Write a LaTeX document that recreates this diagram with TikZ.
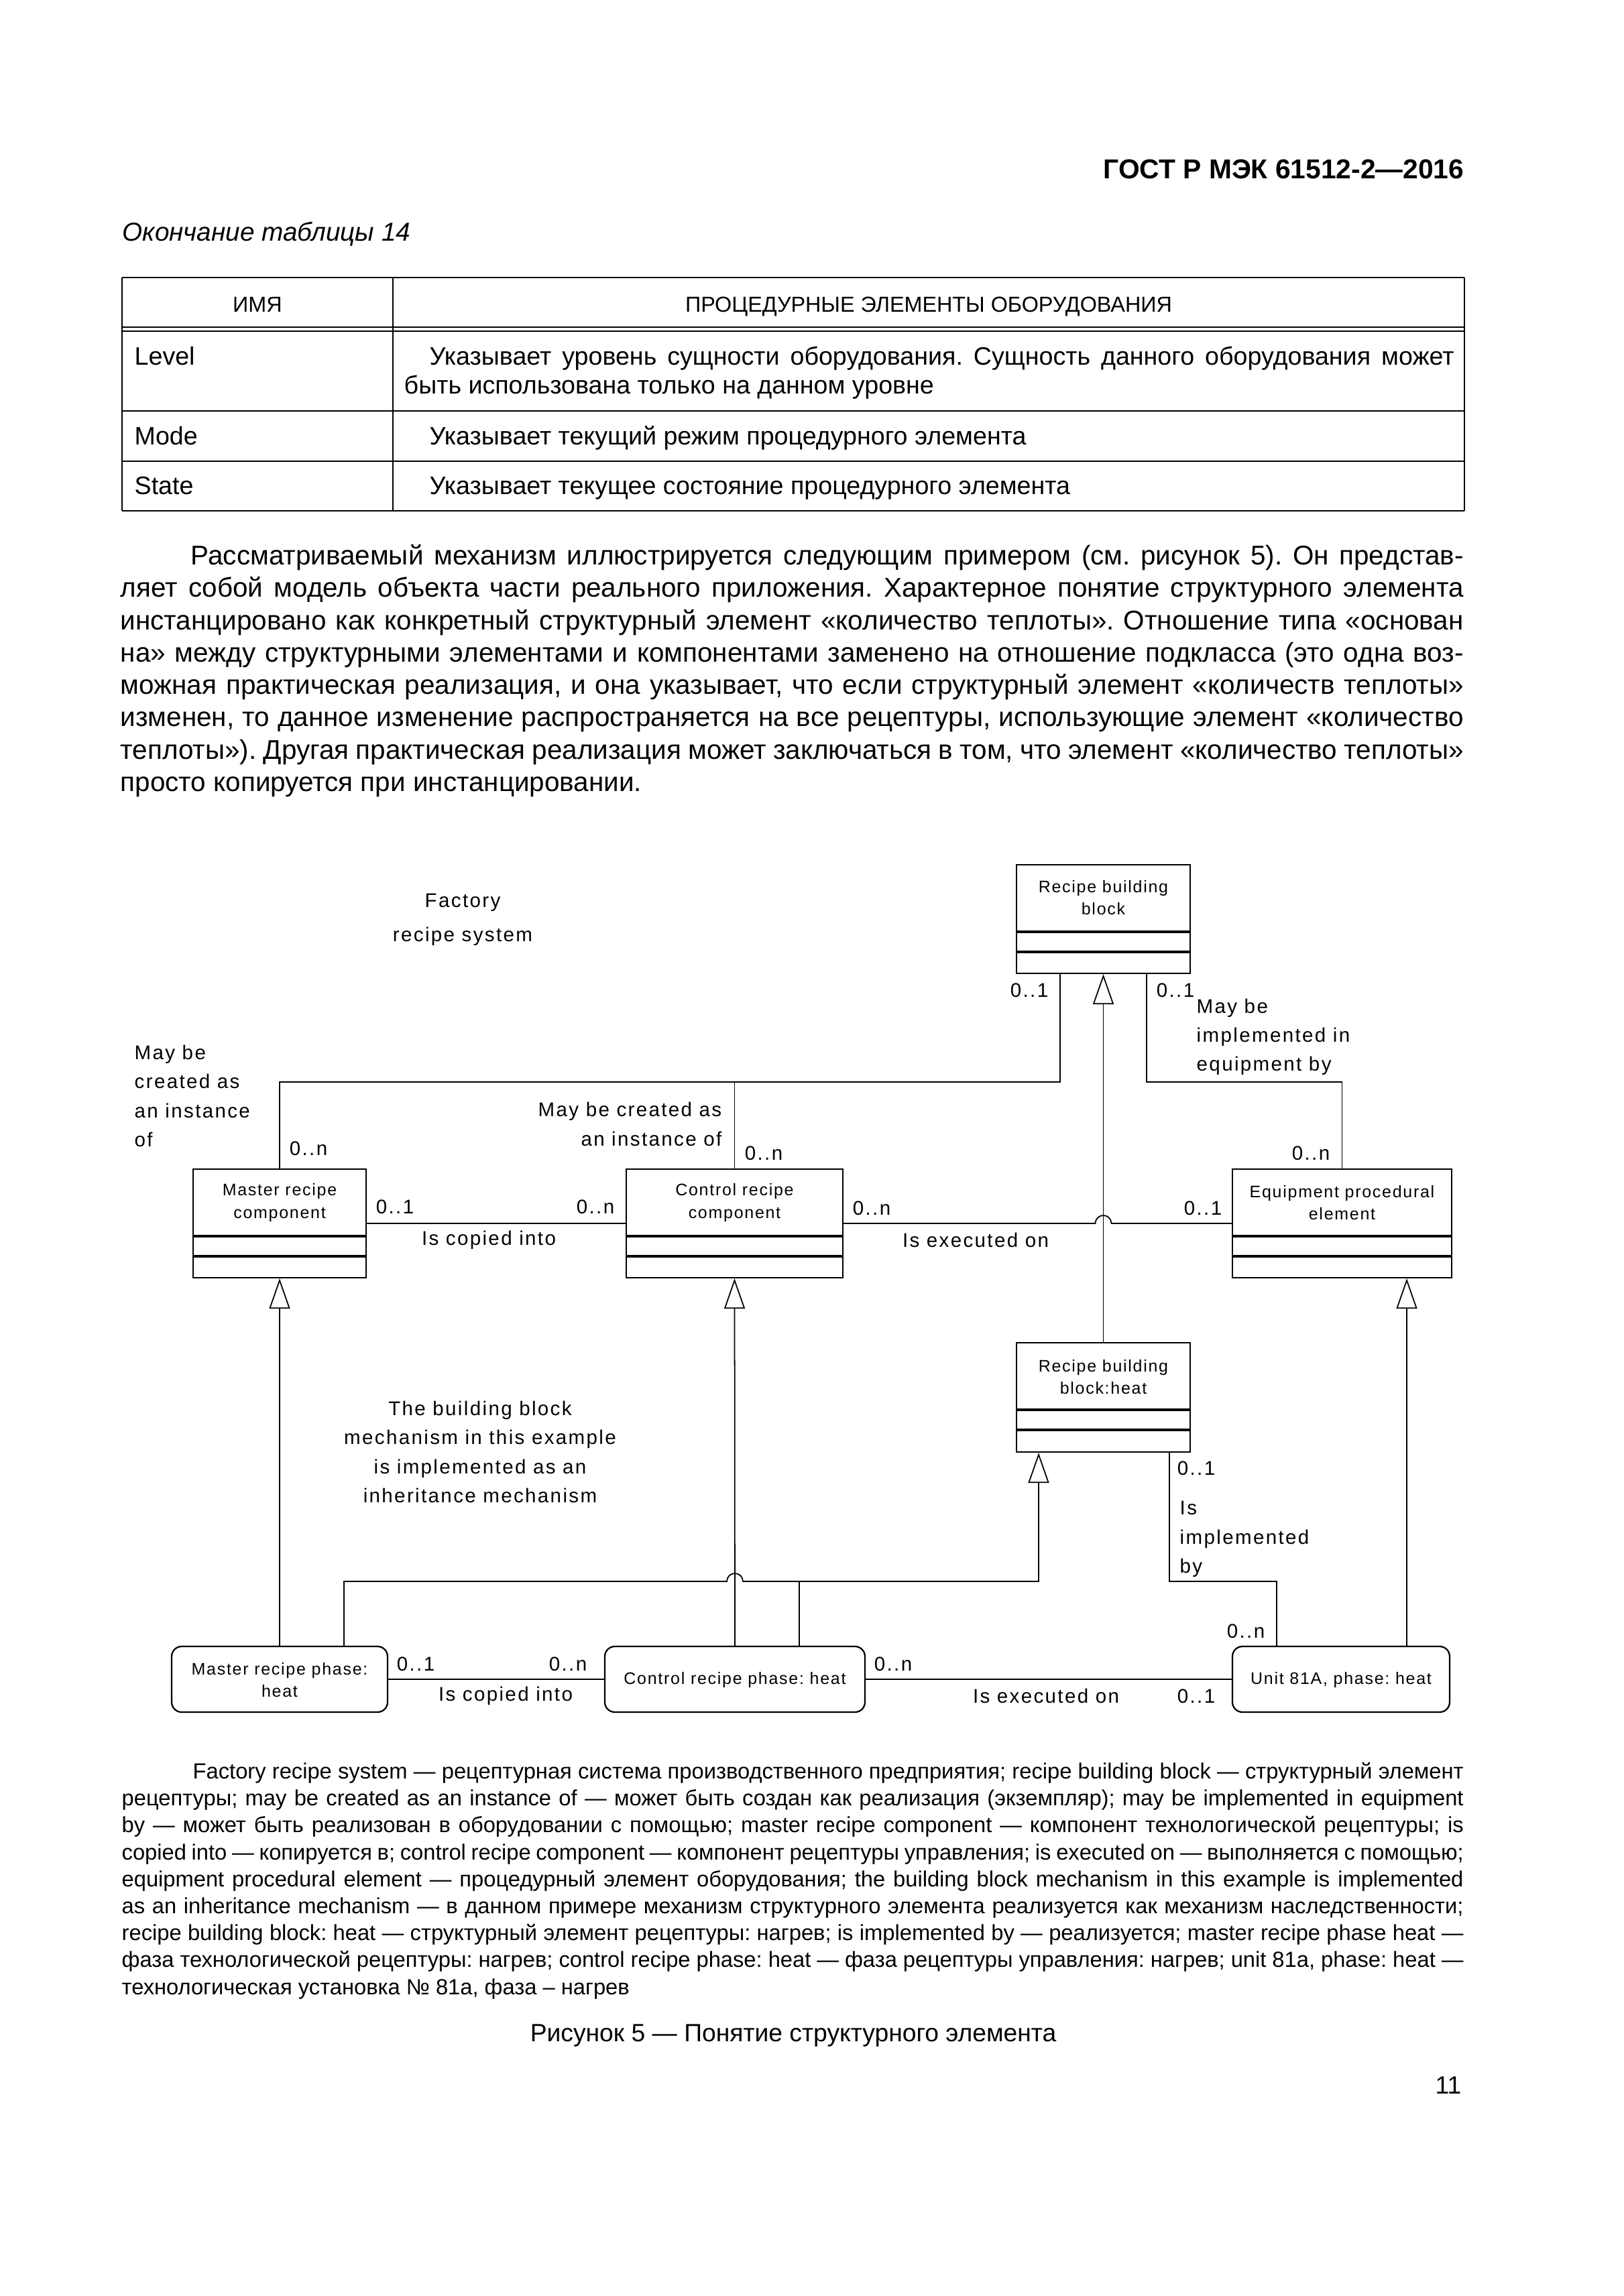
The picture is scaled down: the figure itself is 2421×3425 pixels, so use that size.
\documentclass[tikz,border=0pt]{standalone}
\usepackage{fontspec}
\setmainfont{Liberation Sans}
\newfontfamily\labfont[LetterSpace=8]{Liberation Sans}
\newfontfamily\boxfont[LetterSpace=7]{Liberation Sans}
\usetikzlibrary{arrows.meta}
\frenchspacing
\newcommand{\jl}[2]{\makebox[#1][s]{#2}}
\tikzset{
  pg/.style={anchor=base west, inner sep=0pt, font=\fontsize{11.5}{13.7}\selectfont},
  lg/.style={anchor=base west, inner sep=0pt, font=\fontsize{9.3}{11.4}\selectfont},
  tb/.style={anchor=base west, inner sep=0pt, font=\fontsize{10.7}{12.5}\selectfont},
  th/.style={anchor=base, inner sep=0pt, font=\fontsize{9.2}{11}\selectfont},
  lab/.style={inner sep=0pt, font=\labfont\fontsize{8.4}{12.3}\selectfont},
  btx/.style={inner sep=0pt, align=center, font=\boxfont\fontsize{7.1}{9.6}\selectfont},
  cls/.style={draw, line width=0.65pt, inner sep=0pt, minimum height=16.2mm},
  phs/.style={draw, line width=0.65pt, inner sep=0pt, minimum height=9.8mm, rounded corners=1.5mm},
  comp/.style={line width=1.2pt},
  conn/.style={line width=0.5pt},
  inh/.style={line width=0.5pt, -{Triangle[open, length=4.5mm, width=3.1mm]}},
  hrule/.style={line width=0.75pt},
  vrule/.style={line width=0.45pt},
}
\begin{document}
\begin{tikzpicture}[x=0.1mm, y=-0.1mm]
\fill[white] (0,0) rectangle (2421,3425);
\useasboundingbox (0,0) rectangle (2421,3425);

% header
\node[anchor=base east, inner sep=0pt, font=\fontsize{11.6}{14}\selectfont\bfseries] (hdr) at (2184,266) {ГОСТ Р МЭК 61512-2—2016};
\node[anchor=base west, inner sep=0pt, font=\fontsize{11}{13}\selectfont\itshape] (tcap) at (182,359) {Окончание таблицы 14};

% table
\draw[hrule] (182,414) -- (2184,414);
\draw[hrule] (182,488) -- (2184,488);
\draw[hrule] (182,494) -- (2184,494);
\draw[hrule] (182,613) -- (2184,613);
\draw[hrule] (182,688) -- (2184,688);
\draw[hrule] (182,762) -- (2184,762);
\draw[vrule] (182,414) -- (182,762);
\draw[vrule] (586,414) -- (586,762);
\draw[vrule] (2184,414) -- (2184,762);
\node[th] (h1) at (384,465) {ИМЯ};
\node[th] (h2) at (1385,465) {ПРОЦЕДУРНЫЕ ЭЛЕМЕНТЫ ОБОРУДОВАНИЯ};
\node[tb] (r1a) at (200,544) {Level};
\node[tb] (r1b) at (640,544) {\jl{152.8mm}{Указывает уровень сущности оборудования. Сущность данного оборудования может}};
\node[tb] (r1c) at (602,587) {быть использована только на данном уровне};
\node[tb] (r2a) at (200,663) {Mode};
\node[tb] (r2b) at (640,663) {Указывает текущий режим процедурного элемента};
\node[tb] (r3a) at (200,737) {State};
\node[tb] (r3b) at (640,737) {Указывает текущее состояние процедурного элемента};

% paragraph
\node[pg] (p1) at (284,842) {\jl{189.8mm}{Рассматриваемый механизм иллюстрируется следующим примером (см. рисунок 5). Он представ-}};
\node[pg] (p2) at (179,890) {\jl{200.3mm}{ляет собой модель объекта части реального приложения. Характерное понятие структурного элемента}};
\node[pg] (p3) at (179,939) {\jl{200.3mm}{инстанцировано как конкретный структурный элемент «количество теплоты». Отношение типа «основан}};
\node[pg] (p4) at (179,987) {\jl{200.3mm}{на» между структурными элементами и компонентами заменено на отношение подкласса (это одна воз-}};
\node[pg] (p5) at (179,1035) {\jl{200.3mm}{можная практическая реализация, и она указывает, что если структурный элемент «количеств теплоты»}};
\node[pg] (p6) at (179,1083) {\jl{200.3mm}{изменен, то данное изменение распространяется на все рецептуры, использующие элемент «количество}};
\node[pg] (p7) at (179,1132) {\jl{200.3mm}{теплоты»). Другая практическая реализация может заключаться в том, что элемент «количество теплоты»}};
\node[pg] (p8) at (179,1180) {просто копируется при инстанцировании.};

% ---------------- diagram ----------------
\node[cls, minimum width=25.9mm] (rbb) at (1645.5,1371) {};
\node[btx] (rbbt) at (1645.5,1339) {Recipe building\\block};
\node[cls, minimum width=25.8mm] (mrc) at (417,1825) {};
\node[btx] (mrct) at (417,1794) {Master recipe\\component};
\node[cls, minimum width=32.3mm] (crc) at (1095.5,1825) {};
\node[btx] (crct) at (1095.5,1794) {Control recipe\\component};
\node[cls, minimum width=32.7mm] (epe) at (2001.5,1825) {};
\node[btx] (epet) at (2001.5,1794) {Equipment procedural\\element};
\node[cls, minimum width=25.9mm, minimum height=16.3mm] (rbh) at (1645.5,2084.5) {};
\node[btx] (rbht) at (1645.5,2054) {Recipe building\\block:heat};
\foreach \n in {rbb,mrc,crc,epe,rbh}{
  \draw[comp] ([yshift=-10.1mm]\n.north west) -- ([yshift=-10.1mm]\n.north east);
  \draw[comp] ([yshift=-13.1mm]\n.north west) -- ([yshift=-13.1mm]\n.north east);
}
\node[phs, minimum width=32.2mm] (mrp) at (417,2505) {};
\node[btx] (mrpt) at (417,2506) {Master recipe phase:\\heat};
\node[phs, minimum width=38.8mm] (crp) at (1096,2505) {};
\node[btx] (crpt) at (1096,2506) {Control recipe phase: heat};
\node[phs, minimum width=32.4mm] (unt) at (2000,2505) {};
\node[btx] (untt) at (2000,2506) {Unit 81A, phase: heat};

% connectors
\coordinate (bA) at (1581,1614);
\coordinate (bB) at (1710,1614);
\draw[conn] (mrc.north) |- (bA) -- (bA |- rbb.south);
\draw[conn] (crc.north) -- (crc.north |- bA);
\draw[conn] (bB |- rbb.south) -- (bB) -| (epe.north);
\draw[conn] (mrc.east) -- (crc.west);
\coordinate (jmp1) at (1633.5,1825);
\draw[conn] (crc.east) -- (jmp1) arc[start angle=180, end angle=0, radius=1.2mm] -- (epe.west);

\draw[inh] (rbh.north) -- (rbb.south);
\draw[inh] (mrp.north) -- (mrc.south);
\draw[inh] (crp.north) -- (crc.south);
\coordinate (eT) at ([xshift=9.65mm]epe.south);
\coordinate (uT) at ([xshift=9.8mm]unt.north);
\draw[inh] (uT) -- (eT);

\coordinate (mP) at ([xshift=9.6mm]mrp.north);
\coordinate (cP) at ([xshift=9.6mm]crp.north);
\coordinate (hL) at (1549,2359);
\coordinate (jmp2) at (1084,2359);
\draw[inh] (mP) |- (jmp2) arc[start angle=180, end angle=0, radius=1.2mm] -- (hL) -- (hL |- rbh.south);
\draw[conn] (cP) -- (cP |- hL);
\coordinate (hR) at (1744,2359);
\coordinate (uL) at ([xshift=-9.6mm]unt.north);
\draw[conn] (hR |- rbh.south) -- (hR) -| (uL);
\draw[conn] (mrp.east) -- (crp.west);
\draw[conn] (crp.east) -- (unt.west);

% labels
\node[lab, align=center, font=\labfont\fontsize{8.4}{14.5}\selectfont] (fac) at (690,1372) {Factory\\recipe system};
\node[lab, align=left, anchor=west] (l1) at (200,1635) {May be\\created as\\an instance\\of};
\node[lab, align=right, anchor=east] (l2) at (1077,1677) {May be created as\\an instance of};
\node[lab, align=left, anchor=west] (l3) at (1784,1547) {May be\\implemented in\\equipment by};
\node[lab, align=center] (l4) at (716,2166) {The building block\\mechanism in this example\\is implemented as an\\inheritance mechanism};
\node[lab, align=left, anchor=west] (l5) at (1759,2296) {Is\\implemented\\by};
\node[lab] (m1) at (1535,1477) {0..1};
\node[lab] (m2) at (1753,1477) {0..1};
\node[lab] (m3) at (1955,1720) {0..n};
\node[lab] (m4) at (460,1713) {0..n};
\node[lab] (m5) at (1139,1720) {0..n};
\node[lab] (m6) at (589,1800) {0..1};
\node[lab] (m7) at (888,1800) {0..n};
\node[lab] (c1) at (729,1850) {Is copied into};
\node[lab] (m8) at (1300,1802) {0..n};
\node[lab] (m9) at (1794,1802) {0..1};
\node[lab] (c2) at (1455,1850) {Is executed on};
\node[lab] (m10) at (1784,2190) {0..1};
\node[lab] (m11) at (1858,2433) {0..n};
\node[lab] (m12) at (620,2482) {0..1};
\node[lab] (m13) at (847,2482) {0..n};
\node[lab] (c3) at (754,2530) {Is copied into};
\node[lab] (m14) at (1332,2482) {0..n};
\node[lab] (c4) at (1560,2530) {Is executed on};
\node[lab] (m15) at (1784,2530) {0..1};

% legend
\node[lg] (g1) at (287,2653) {\jl{189.5mm}{Factory recipe system — рецептурная система производственного предприятия; recipe building block — структурный элемент}};
\node[lg] (g2) at (181,2693) {\jl{200.1mm}{рецептуры; may be created as an instance of — может быть создан как реализация (экземпляр); may be implemented in equipment}};
\node[lg] (g3) at (181,2733) {\jl{200.1mm}{by — может быть реализован в оборудовании с помощью; master recipe component — компонент технологической рецептуры; is}};
\node[lg] (g4) at (181,2774) {\jl{200.1mm}{copied into — копируется в; control recipe component — компонент рецептуры управления; is executed on — выполняется с помощью;}};
\node[lg] (g5) at (181,2814) {\jl{200.1mm}{equipment procedural element — процедурный элемент оборудования; the building block mechanism in this example is implemented}};
\node[lg] (g6) at (181,2854) {\jl{200.1mm}{as an inheritance mechanism — в данном примере механизм структурного элемента реализуется как механизм наследственности;}};
\node[lg] (g7) at (181,2894) {\jl{200.1mm}{recipe building block: heat — структурный элемент рецептуры: нагрев; is implemented by — реализуется; master recipe phase heat —}};
\node[lg] (g8) at (181,2934) {\jl{200.1mm}{фаза технологической рецептуры: нагрев; control recipe phase: heat — фаза рецептуры управления: нагрев; unit 81a, phase: heat —}};
\node[lg] (g9) at (181,2975) {технологическая установка № 81а, фаза – нагрев};

\node[anchor=base, inner sep=0pt, font=\fontsize{10.6}{13}\selectfont] (fcap) at (1183,3045) {Рисунок 5 — Понятие структурного элемента};
\node[anchor=base east, inner sep=0pt, font=\fontsize{10.6}{13}\selectfont] (pnum) at (2180,3123) {11};
\end{tikzpicture}
\end{document}
